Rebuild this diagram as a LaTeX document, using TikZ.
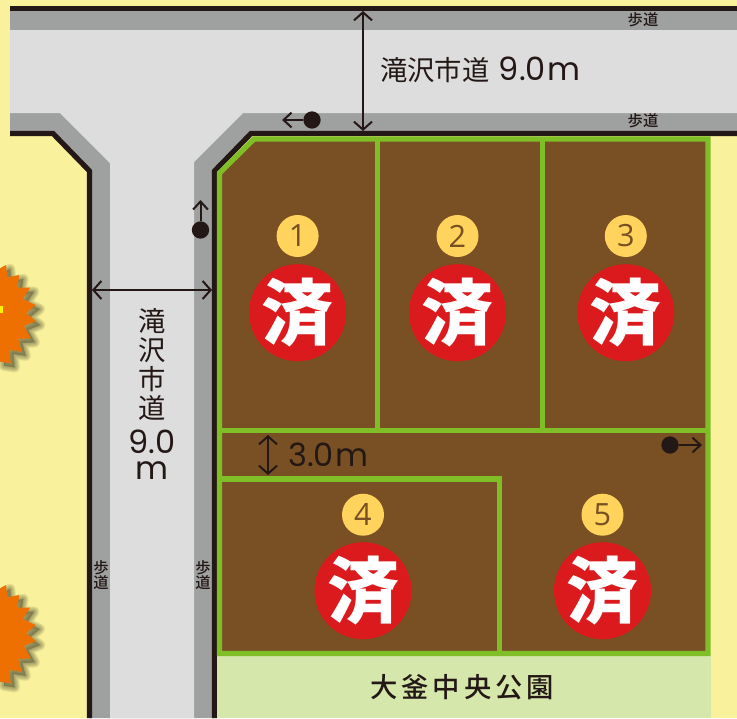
\documentclass[tikz,border=0pt]{standalone}
\usepackage{fontspec}
\newfontfamily\jp{Noto Sans CJK JP}
\newfontfamily\jpm{Noto Sans CJK JP Medium}
\newfontfamily\lat{Poppins}
\newfontfamily\digit{Open Sans}
\definecolor{bg}{HTML}{F9F19B}
\definecolor{roadc}{HTML}{DDDDDD}
\definecolor{walk}{HTML}{9FA0A0}
\definecolor{ink}{HTML}{231815}
\definecolor{lotc}{HTML}{795023}
\definecolor{edge}{HTML}{7FBE26}
\definecolor{park}{HTML}{D6E7AC}
\definecolor{numc}{HTML}{FFD35C}
\definecolor{redc}{HTML}{DA1A1C}
\definecolor{burst}{HTML}{EE7000}
\usetikzlibrary{arrows.meta}
\tikzset{
 numdisc/.style={circle,fill=numc,minimum size=31.5pt,inner sep=-4pt,text=lotc,font=\fontsize{23}{23}\selectfont\digit},
 sold/.style={circle,fill=redc,minimum size=72.8pt,inner sep=-8pt,text=white,font=\fontsize{54}{54}\selectfont\jp\bfseries},
 walklabel/.style={text=ink,font=\fontsize{11.5}{11.5}\selectfont\jpm,inner sep=0pt},
 roadlabel/.style={text=ink,font=\fontsize{20.5}{21.75}\selectfont\jp,inner sep=0pt},
 parklabel/.style={text=ink,font=\fontsize{20.5}{20.5}\selectfont\jpm,inner sep=0pt},
 dim/.style={draw=ink,line width=1.5pt},
 dimtip/.style={dim,{Straight Barb[length=6pt,width=13.5pt]}-{Straight Barb[length=6pt,width=13.5pt]}},
 outtip/.style={dim,-{Straight Barb[length=6pt,width=11pt]}},
 dot/.style={circle,fill=ink,minimum size=13pt,inner sep=0pt},
 blackline/.style={draw=ink,line width=3.9pt},
 lotline/.style={draw=edge,line width=4pt},
}
\newcommand{\latnum}[1]{{\fontsize{24}{21.75}\selectfont\lat #1}}
\newcommand{\burstshape}{(0,268.3) -- (6,265) -- (7.3,277.3) -- (19.3,275) -- (17.3,287.7) -- (30,287.7) -- (22.7,299) -- (35.7,305) -- (26,313.3) -- (36,321) -- (24,326) -- (30.7,338.3) -- (18.3,339) -- (21.7,351.7) -- (9.3,350) -- (10.7,363.3) -- (0,361.7) -- cycle}
\begin{document}
\begin{tikzpicture}[x=0.75pt,y=-0.75pt]
\useasboundingbox (0,0) rectangle (737,718);
\fill[bg] (0,0) rectangle (737,718);
% bursts with soft shadows
\foreach \dy in {0,320}{
 \begin{scope}[yshift=-0.75*\dy pt]
  \foreach \w in {8,7,6,5,4,3,2,1}{
   \draw[black!60!bg,opacity=0.09,line width=\w pt,line join=round,fill=black!60!bg,fill opacity=0.09,xshift=3pt,yshift=-3pt] \burstshape;
  }
  \fill[burst] \burstshape;
 \end{scope}
}
\fill[yellow] (0,306) rectangle (3,313);
% sidewalks
\fill[walk] (10,10) -- (737,10) -- (737,133) -- (251,133) -- (214,171) -- (214,718) -- (89,718) -- (89,171) -- (53,133) -- (10,133) -- cycle;
% road
\fill[roadc] (10,30) -- (737,30) -- (737,113) -- (243,113) -- (194,162) -- (194,718) -- (110,718) -- (110,163) -- (60,113) -- (10,113) -- cycle;
% black edges
\draw[blackline] (10,8.5) -- (737,8.5);
\draw[blackline] (10,133.5) -- (53,133.5) -- (89.5,171) -- (89.5,718);
\draw[blackline] (737,133.5) -- (251,133.5) -- (214.5,171) -- (214.5,718);
% park
\fill[park] (217,656) rectangle (711,718);
% lots
\fill[lotc] (254,139) -- (708,139) -- (708,653.5) -- (219.5,653.5) -- (219.5,173) -- cycle;
\draw[lotline,line join=miter] (254,139) -- (708,139) -- (708,653.5) -- (219.5,653.5) -- (219.5,173) -- cycle;
\draw[lotline] (377.3,139) -- (377.3,431);
\draw[lotline] (542.7,139) -- (542.7,431);
\draw[lotline] (219.5,430.7) -- (708,430.7);
\draw[lotline] (219.5,479) -- (499.3,479) -- (499.3,653.5);
% lot markers
\foreach \n/\x/\ya/\yb in {1/297.6/236/312.7,2/457.5/236/312.7,3/625.8/236/312.7,4/363/514.7/590.7,5/602.5/514.7/590.7}{
 \node[numdisc] (n\n) at (\x,\ya) {\n};
 \node[sold] (s\n) at (\x,\yb) {済};
}
% dimension arrows
\coordinate (ta) at (363,11);
\coordinate (tb) at (363,131);
\draw[dimtip] (ta) -- (tb);
\coordinate (la) at (92,290);
\coordinate (lb) at (212,290);
\draw[dimtip] (la) -- (lb);
\coordinate (pa) at (268,435);
\coordinate (pb) at (268,475);
\draw[dimtip] (pa) -- (pb);
% direction arrows
\node[dot] (d1) at (312,120) {};
\coordinate (e1) at (282,120);
\draw[outtip] (d1) -- (e1);
\node[dot] (d2) at (200.5,230) {};
\coordinate (e2) at (200.5,200);
\draw[outtip] (d2) -- (e2);
\node[dot] (d3) at (670,445) {};
\coordinate (e3) at (702,445);
\draw[outtip] (d3) -- (e3);
% labels
\node[roadlabel,anchor=base west] (r1) at (380,80) {滝沢市道\hspace{7pt}\latnum{9.0\hspace{1pt}m}};
\node[roadlabel,align=center,anchor=north] (r2) at (152,308) {滝\\沢\\市\\道\\[4.5pt]\latnum{9.0}\\[-2pt]\latnum{m}};
\node[roadlabel,anchor=base west] (r3) at (288,466) {\latnum{3.0\hspace{1pt}m}};
\node[parklabel] (r4) at (462,687) {大\hspace{3pt}釜\hspace{3pt}中\hspace{3pt}央\hspace{3pt}公\hspace{3pt}園};
\node[walklabel] (w1) at (643,20) {歩道};
\node[walklabel] (w2) at (643,121) {歩道};
\node[walklabel,align=center] (w3) at (101,575) {歩\\道};
\node[walklabel,align=center] (w4) at (203,575) {歩\\道};
\end{tikzpicture}
\end{document}
